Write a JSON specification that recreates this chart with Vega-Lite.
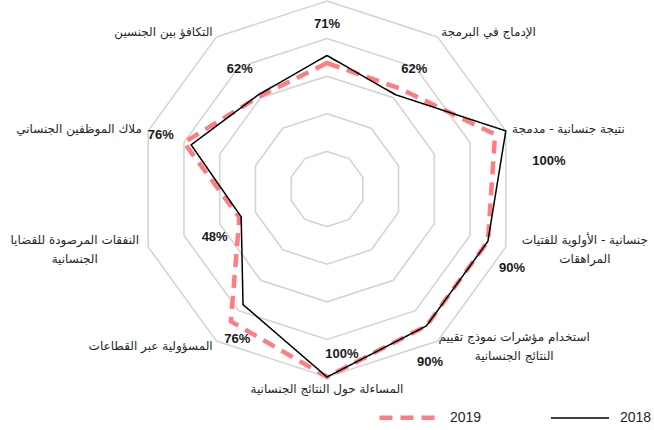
{
  "$schema": "https://vega.github.io/schema/vega-lite/v6.json",
  "width": 654,
  "height": 430,
  "autosize": "none",
  "padding": 0,
  "background": "#ffffff",
  "config": {"view": {"stroke": null}},
  "data": {"values": [
    {"axis": "", "year": "2019", "value": 67},
    {"axis": "الإدماج في البرمجة", "year": "2019", "value": 66},
    {"axis": "نتيجة جنسانية - مدمجة", "year": "2019", "value": 94},
    {"axis": "جنسانية - الأولوية للفتيات\nالمراهقات", "year": "2019", "value": 90},
    {"axis": "استخدام مؤشرات نموذج تقييم\nالنتائج الجنسانية", "year": "2019", "value": 90},
    {"axis": "المساءلة حول النتائج الجنسانية", "year": "2019", "value": 100},
    {"axis": "المسؤولية عبر القطاعات", "year": "2019", "value": 87},
    {"axis": "النفقات المرصودة للقضايا\nالجنسانية", "year": "2019", "value": 49},
    {"axis": "ملاك الموظفين الجنساني", "year": "2019", "value": 80},
    {"axis": "التكافؤ بين الجنسين", "year": "2019", "value": 61},
    {"axis": "", "year": "2018", "value": 71},
    {"axis": "الإدماج في البرمجة", "year": "2018", "value": 62},
    {"axis": "نتيجة جنسانية - مدمجة", "year": "2018", "value": 100},
    {"axis": "جنسانية - الأولوية للفتيات\nالمراهقات", "year": "2018", "value": 90},
    {"axis": "استخدام مؤشرات نموذج تقييم\nالنتائج الجنسانية", "year": "2018", "value": 90},
    {"axis": "المساءلة حول النتائج الجنسانية", "year": "2018", "value": 100},
    {"axis": "المسؤولية عبر القطاعات", "year": "2018", "value": 76},
    {"axis": "النفقات المرصودة للقضايا\nالجنسانية", "year": "2018", "value": 48},
    {"axis": "ملاك الموظفين الجنساني", "year": "2018", "value": 76},
    {"axis": "التكافؤ بين الجنسين", "year": "2018", "value": 62}
  ]},
  "transform": [
    {"window": [{"op": "row_number", "as": "idx"}], "groupby": ["year"]},
    {"calculate": "(datum.idx - 1) * PI / 5", "as": "ang"},
    {"calculate": "datum.value * sin(datum.ang)", "as": "px"},
    {"calculate": "datum.value * cos(datum.ang)", "as": "py"}
  ],
  "layer": [
    {
      "transform": [
        {"filter": "datum.year == '2018'"},
        {"calculate": "[20, 40, 60, 80, 100]", "as": "lv"},
        {"flatten": ["lv"]},
        {"calculate": "datum.lv * sin(datum.ang)", "as": "gx"},
        {"calculate": "datum.lv * cos(datum.ang)", "as": "gy"}
      ],
      "mark": {"type": "line", "interpolate": "linear-closed", "stroke": "#d4d4d4", "strokeWidth": 1.6},
      "encoding": {
        "x": {"field": "gx", "type": "quantitative", "scale": {"domain": [-173.94, 173.94], "nice": false, "zero": false}, "axis": null},
        "y": {"field": "gy", "type": "quantitative", "scale": {"domain": [-128.19, 100.53], "nice": false, "zero": false}, "axis": null},
        "detail": {"field": "lv", "type": "nominal"},
        "order": {"field": "idx", "type": "quantitative"}
      }
    },
    {
      "mark": {"type": "line", "interpolate": "linear-closed"},
      "encoding": {
        "x": {"field": "px", "type": "quantitative", "scale": {"domain": [-173.94, 173.94], "nice": false, "zero": false}, "axis": null},
        "y": {"field": "py", "type": "quantitative", "scale": {"domain": [-128.19, 100.53], "nice": false, "zero": false}, "axis": null},
        "order": {"field": "idx", "type": "quantitative"},
        "color": {
          "field": "year", "type": "nominal",
          "scale": {"domain": ["2019", "2018"], "range": ["#ff7c80", "#000000"]},
          "legend": {
            "title": null, "orient": "none", "legendX": 377, "legendY": 386,
            "direction": "horizontal", "symbolType": "stroke", "symbolSize": 3364,
            "labelFontSize": 14, "labelFont": "Liberation Sans", "labelColor": "#262626",
            "columnPadding": 66, "labelOffset": 10, "padding": 0
          }
        },
        "strokeDash": {"field": "year", "type": "nominal", "scale": {"domain": ["2019", "2018"], "range": [[13, 8], [1, 0]]}},
        "strokeWidth": {"field": "year", "type": "ordinal", "scale": {"domain": ["2019", "2018"], "range": [4.5, 1.5]}}
      }
    },
    {
      "transform": [
        {"filter": "datum.year == '2018' && sin(datum.ang) > 0.2 && indexof(datum.axis, '\\n') < 0"},
        {"calculate": "103.5 * sin(datum.ang)", "as": "cx"},
        {"calculate": "103.5 * cos(datum.ang)", "as": "cy"}
      ],
      "mark": {"type": "text", "align": "left", "baseline": "middle", "font": "DejaVu Sans", "fontSize": 12, "color": "#262626"},
      "encoding": {
        "x": {"field": "cx", "type": "quantitative", "scale": {"domain": [-173.94, 173.94], "nice": false, "zero": false}, "axis": null},
        "y": {"field": "cy", "type": "quantitative", "scale": {"domain": [-128.19, 100.53], "nice": false, "zero": false}, "axis": null},
        "text": {"field": "axis", "type": "nominal"}
      }
    },
    {
      "transform": [
        {"filter": "datum.year == '2018' && sin(datum.ang) < -0.2 && indexof(datum.axis, '\\n') < 0"},
        {"calculate": "103.5 * sin(datum.ang)", "as": "cx"},
        {"calculate": "103.5 * cos(datum.ang)", "as": "cy"}
      ],
      "mark": {"type": "text", "align": "right", "baseline": "middle", "font": "DejaVu Sans", "fontSize": 12, "color": "#262626"},
      "encoding": {
        "x": {"field": "cx", "type": "quantitative", "scale": {"domain": [-173.94, 173.94], "nice": false, "zero": false}, "axis": null},
        "y": {"field": "cy", "type": "quantitative", "scale": {"domain": [-128.19, 100.53], "nice": false, "zero": false}, "axis": null},
        "text": {"field": "axis", "type": "nominal"}
      }
    },
    {
      "transform": [
        {"filter": "datum.year == '2018' && abs(sin(datum.ang)) <= 0.2 && datum.axis != ''"},
        {"calculate": "103.5 * sin(datum.ang)", "as": "cx"},
        {"calculate": "103.5 * cos(datum.ang)", "as": "cy"}
      ],
      "mark": {"type": "text", "align": "center", "baseline": "top", "font": "DejaVu Sans", "fontSize": 12, "color": "#262626"},
      "encoding": {
        "x": {"field": "cx", "type": "quantitative", "scale": {"domain": [-173.94, 173.94], "nice": false, "zero": false}, "axis": null},
        "y": {"field": "cy", "type": "quantitative", "scale": {"domain": [-128.19, 100.53], "nice": false, "zero": false}, "axis": null},
        "text": {"field": "axis", "type": "nominal"}
      }
    },
    {
      "transform": [
        {"filter": "datum.year == '2018' && indexof(datum.axis, '\\n') >= 0"},
        {"calculate": "length(split(datum.axis, '\\n')[0]) * 5.6 / 2 / 1.88", "as": "hw"},
        {"calculate": "103.5 * sin(datum.ang) + (sin(datum.ang) > 0 ? datum.hw : -datum.hw)", "as": "cx"},
        {"calculate": "103.5 * cos(datum.ang) + 5.05", "as": "cy"}
      ],
      "mark": {"type": "text", "align": "center", "baseline": "middle", "font": "DejaVu Sans", "fontSize": 12, "lineBreak": "\n", "lineHeight": 19, "color": "#262626"},
      "encoding": {
        "x": {"field": "cx", "type": "quantitative", "scale": {"domain": [-173.94, 173.94], "nice": false, "zero": false}, "axis": null},
        "y": {"field": "cy", "type": "quantitative", "scale": {"domain": [-128.19, 100.53], "nice": false, "zero": false}, "axis": null},
        "text": {"field": "axis", "type": "nominal"}
      }
    },
    {
      "transform": [
        {"filter": "datum.year == '2018'"},
        {"calculate": "datum.value >= 100 ? (cos(datum.ang) > 0 ? datum.value + 19 : datum.value - 12) : datum.value + 17", "as": "lr"},
        {"calculate": "datum.ang + (cos(datum.ang) < 0 ? (sin(datum.ang) > 0.01 ? 0.09 : -0.09) : (datum.value >= 100 ? 0.19 : 0))", "as": "la"},
        {"calculate": "datum.lr * sin(datum.la)", "as": "lx"},
        {"calculate": "datum.lr * cos(datum.la)", "as": "ly"},
        {"calculate": "datum.value + '%'", "as": "lab"}
      ],
      "mark": {"type": "text", "align": "center", "baseline": "middle", "font": "Liberation Sans", "fontSize": 13, "fontWeight": "bold", "color": "#1a1a1a"},
      "encoding": {
        "x": {"field": "lx", "type": "quantitative", "scale": {"domain": [-173.94, 173.94], "nice": false, "zero": false}, "axis": null},
        "y": {"field": "ly", "type": "quantitative", "scale": {"domain": [-128.19, 100.53], "nice": false, "zero": false}, "axis": null},
        "text": {"field": "lab", "type": "nominal"}
      }
    }
  ]
}
